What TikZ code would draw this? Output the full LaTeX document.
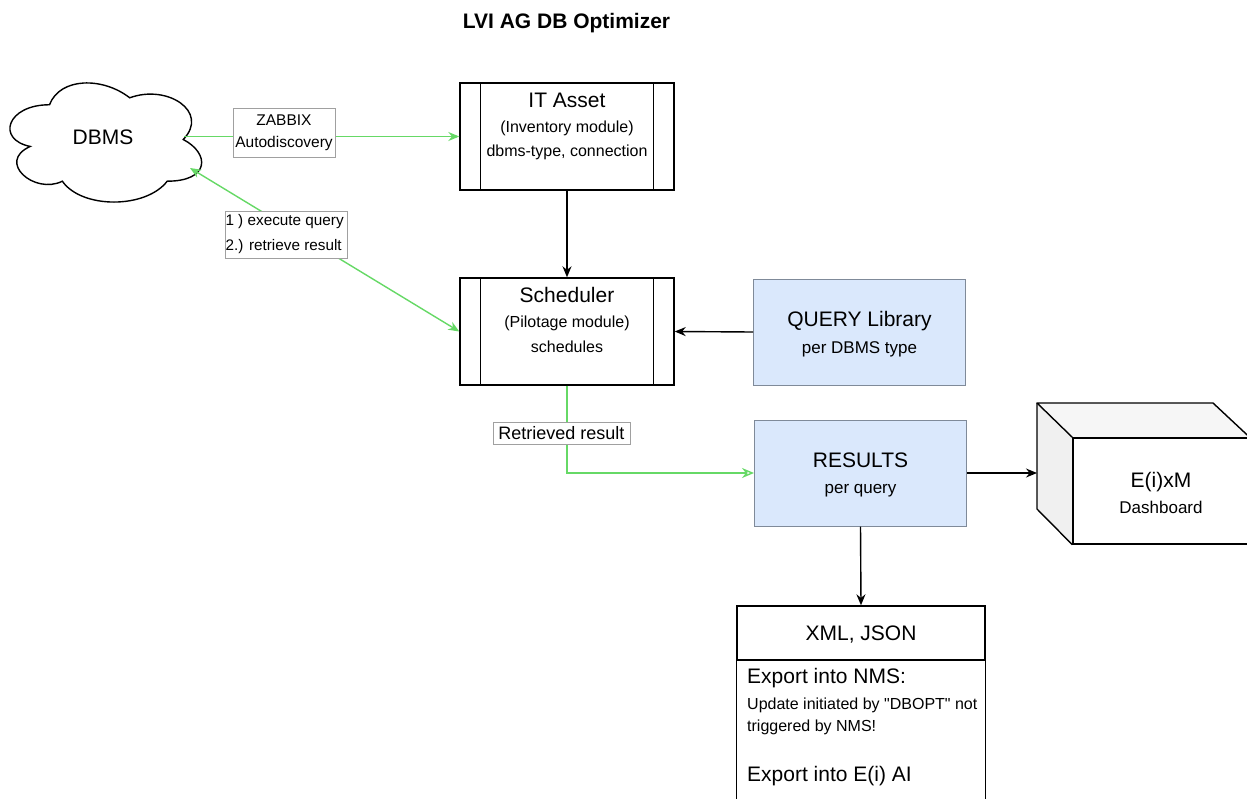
\documentclass[tikz,border=0pt]{standalone}
\usepackage{fontspec}
\setmainfont{Liberation Sans}[Ligatures=TeXOff]
\usetikzlibrary{arrows.meta}
\definecolor{lgreen}{HTML}{66D966}
\definecolor{bluefill}{HTML}{DAE8FC}
\definecolor{boxgray}{HTML}{7F8A99}
\definecolor{lblgray}{HTML}{A0A0A0}
\begin{document}
\begin{tikzpicture}[x=1pt,y=-1pt,
  proc/.style={draw=black, line width=1.4pt, fill=white, minimum width=214pt, minimum height=107pt, inner sep=0pt},
  bluebox/.style={draw=boxgray, line width=1pt, fill=bluefill, minimum width=212pt, minimum height=106pt, inner sep=0pt},
  hd/.style={font=\fontsize{21}{25}\selectfont, inner sep=0pt, text height=15pt, text depth=0pt},
  sub/.style={font=\fontsize{16}{19}\selectfont, inner sep=0pt, text height=11.5pt, text depth=0pt},
  subb/.style={font=\fontsize{17}{20}\selectfont, inner sep=0pt, text height=12.2pt, text depth=0pt},
  lbl/.style={draw=lblgray, line width=0.8pt, fill=white, inner sep=0pt},
  blk/.style={draw=black, line width=1.4pt, -{Stealth[length=11pt,width=9pt]}},
  grn/.style={draw=lgreen, line width=1.4pt},
  gtip/.tip={Stealth[length=11pt,width=9pt,fill=lgreen]}
]
\useasboundingbox (0,0) rectangle (1247,798);
\clip (0,0) rectangle (1247,798);
\fill[white] (0,0) rectangle (1247,798);

% title
\node[font=\bfseries\fontsize{21}{25}\selectfont, inner sep=0pt, text height=15pt, text depth=0pt] (title) at (566.5,20.5) {LVI AG DB Optimizer};

% cloud
\draw[line width=1.4pt, fill=white] (49.5,104.75) .. controls (6.7,104.75) and (-4,139.5) .. (30.24,146.45)
  .. controls (-4,161.74) and (34.52,195.1) .. (62.34,181.2)
  .. controls (81.6,209) and (145.8,209) .. (167.2,181.2)
  .. controls (210,181.2) and (210,153.4) .. (183.25,139.5)
  .. controls (210,111.7) and (167.2,83.9) .. (129.75,97.8)
  .. controls (103,76.95) and (60.2,76.95) .. (49.5,104.75) -- cycle;
\node[hd] (dbms) at (103,136.5) {DBMS};
\coordinate (c1) at (184,136.5);
\coordinate (c2) at (190,168);

% process boxes
\node[proc] (it) at (567,136.5) {};
\draw[line width=1.4pt] ([xshift=21.4pt]it.north west) -- ([xshift=21.4pt]it.south west);
\draw[line width=1.4pt] ([xshift=-21.4pt]it.north east) -- ([xshift=-21.4pt]it.south east);
\node[hd] (it1) at (567,100) {IT Asset};
\node[sub] (it2) at (567,127) {(Inventory module)};
\node[sub] (it3) at (567,151) {dbms-type, connection};

\node[proc] (sched) at (567,331.5) {};
\draw[line width=1.4pt] ([xshift=21.4pt]sched.north west) -- ([xshift=21.4pt]sched.south west);
\draw[line width=1.4pt] ([xshift=-21.4pt]sched.north east) -- ([xshift=-21.4pt]sched.south east);
\node[hd] (s1) at (567,295) {Scheduler};
\node[sub] (s2) at (567,322) {(Pilotage module)};
\node[sub] (s3) at (567,347) {schedules};

% blue boxes
\node[bluebox] (query) at (859.5,332) {};
\node[hd] (q1) at (859.5,319) {QUERY Library};
\node[subb] (q2) at (859.5,347.5) {per DBMS type};

\node[bluebox] (results) at (860.5,473) {};
\node[hd] (r1) at (860.5,460) {RESULTS};
\node[subb] (r2) at (860.5,487.5) {per query};

% cube
\fill[gray!7] (1037,403) -- (1213,403) -- (1249,438) -- (1073,438) -- cycle;
\fill[gray!12] (1037,403) -- (1073,438) -- (1073,544) -- (1037,509) -- cycle;
\node[draw=black, line width=1.4pt, fill=white, minimum width=176pt, minimum height=106pt, inner sep=0pt] (cube) at (1161,491) {};
\draw[line width=1.4pt, line join=round] (cube.north west) -- (1037,403) -- (1213,403) -- (cube.north east);
\draw[line width=1.4pt, line join=round] (1037,403) -- (1037,509) -- (cube.south west);
\node[hd] (e1) at (1161,479.5) {E(i)xM};
\node[subb] (e2) at (1161,507) {Dashboard};
\coordinate (cubel) at (1037,473);

% XML box
\node[draw=black, line width=1.4pt, fill=white, minimum width=248pt, minimum height=54pt, inner sep=0pt] (xml) at (861,633) {};
\node[hd] (x1) at (861,632.5) {XML, JSON};
\draw[line width=1.4pt] (xml.south west) -- ++(0,170);
\draw[line width=1.4pt] (xml.south east) -- ++(0,170);
\node[hd, anchor=west] (x2) at (747,675.5) {Export into NMS:};
\node[sub, anchor=west] (x3) at (747,704) {Update initiated by "DBOPT" not};
\node[sub, anchor=west] (x4) at (747,726) {triggered by NMS!};
\node[hd, anchor=west] (x5) at (747,774) {Export into E(i) AI};

% connectors
\draw[grn, -gtip] (c1) -- (it.west);
\draw[grn, gtip-gtip] (c2) -- (sched.west);
\draw[grn, -{Stealth[open,length=12pt,width=10pt]}] (sched.south) |- (results.west);
\draw[blk] (it.south) -- (sched.north);
\draw[blk] (query.west) -- (sched.east);
\draw[blk] (results.east) -- (cubel);
\draw[blk] (results.south) -- (xml.north);

% labels
\node[lbl, minimum width=102pt, minimum height=49pt, align=center, font=\fontsize{15.5}{22}\selectfont] (zlab) at (284,132.5) {ZABBIX\\Autodiscovery};
\node[lbl, minimum width=122pt, minimum height=47pt, text width=121pt, align=flush left, font=\fontsize{15.3}{25}\selectfont] (elab) at (286,234.5) {1 ) execute query\\2.) retrieve result};
\node[lbl, minimum width=137pt, minimum height=22pt, font=\fontsize{18}{22}\selectfont] (rlab) at (561.5,433) {Retrieved result};
\end{tikzpicture}
\end{document}
